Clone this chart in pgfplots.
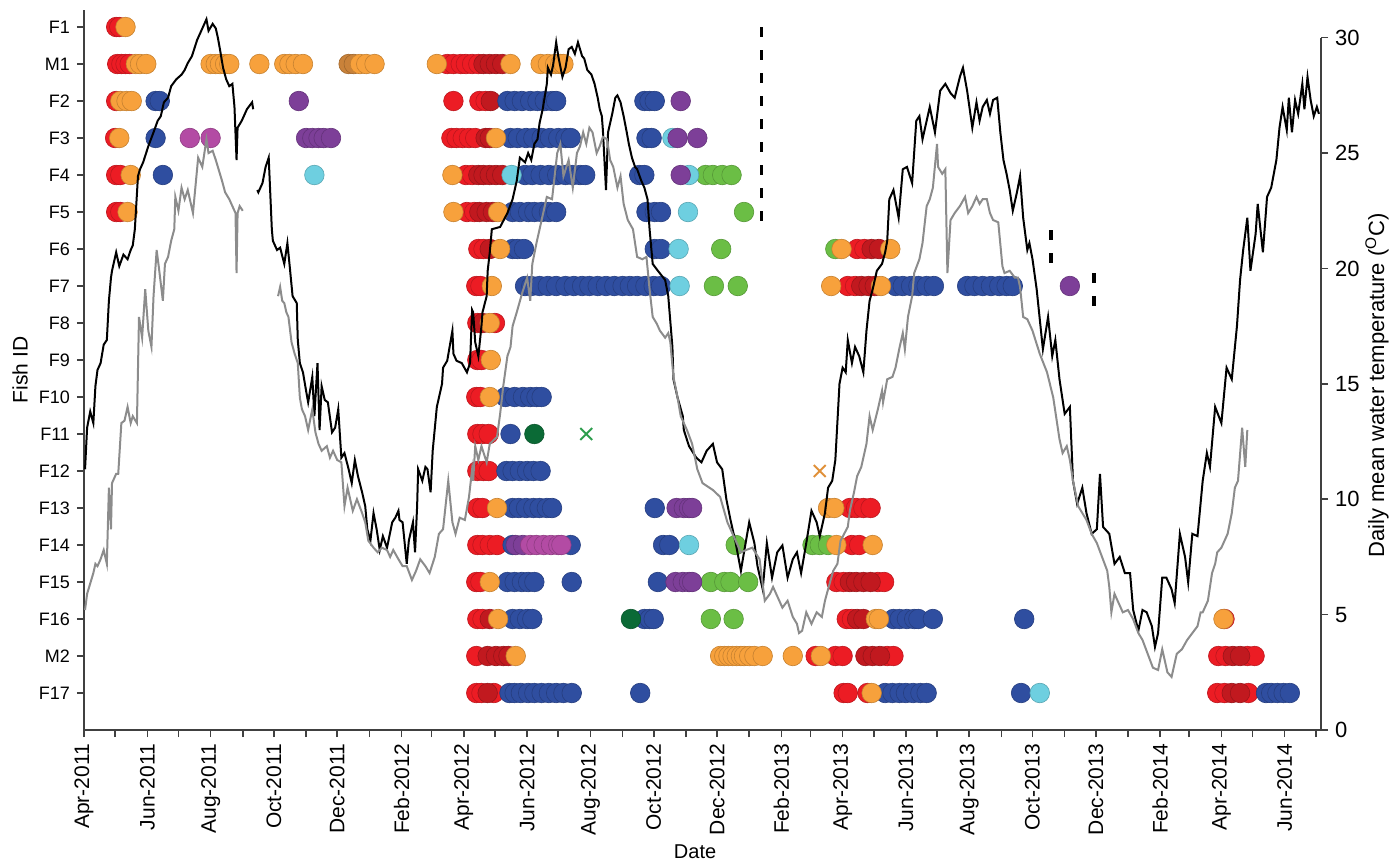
\documentclass[border=0pt]{standalone}
\usepackage{fontspec}
\setmainfont{Liberation Sans}
\usepackage{pgfplots}
\pgfplotsset{compat=1.18}
\definecolor{cred}{HTML}{EC1C24}
\definecolor{cdred}{HTML}{C1191F}
\definecolor{corange}{HTML}{F7A13C}
\definecolor{cbrown}{HTML}{C9823A}
\definecolor{cblue}{HTML}{2F4EA0}
\definecolor{cpurple}{HTML}{7D3F98}
\definecolor{cmag}{HTML}{B34BA4}
\definecolor{ccyan}{HTML}{6ECFE0}
\definecolor{cgreen}{HTML}{6BBE45}
\definecolor{cdgreen}{HTML}{0B6A36}
\definecolor{cgrey}{HTML}{8C8C8C}
\definecolor{cxgreen}{HTML}{2E9E4E}
\definecolor{cxorange}{HTML}{E0913A}
\pgfplotsset{dot/.style={only marks, mark=*, mark size=4.9pt, mark options={fill=#1, draw=#1!80!black, line width=0.3pt}}}
\begin{document}
\begin{tikzpicture}
\begin{axis}[
  at={(0,0)}, anchor=south west,
  width=618.5pt, height=360pt, scale only axis,
  xmin=0, xmax=1192, ymin=0, ymax=19.46,
  axis x line*=bottom, axis y line*=left,
  axis line style={black!75, line width=0.8pt},
  tick style={black!75, line width=0.8pt},
  tick align=outside, major tick length=3.5pt, minor tick length=3.5pt,
  xtick={0,61,122,183,244,306,366,427,488,549,610,672,731,792,853,914,975,1037,1096,1157},
  minor xtick={30,91,153,214,275,335,396,457,519,580,641,700,761,822,884,945,1006,1065,1126,1187},
  xticklabels={Apr-2011,Jun-2011,Aug-2011,Oct-2011,Dec-2011,Feb-2012,Apr-2012,Jun-2012,Aug-2012,Oct-2012,Dec-2012,Feb-2013,Apr-2013,Jun-2013,Aug-2013,Oct-2013,Dec-2013,Feb-2014,Apr-2014,Jun-2014},
  xticklabel style={rotate=90, anchor=east, font=\fontsize{10.5}{12}\selectfont},
  ytick={1,...,19},
  yticklabels={F17,M2,F16,F15,F14,F13,F12,F11,F10,F9,F8,F7,F6,F5,F4,F3,F2,M1,F1},
  yticklabel style={font=\fontsize{9}{10}\selectfont},
  xlabel={Date}, ylabel={Fish ID},
  xlabel style={at={(axis description cs:0.494,-0.1694)}, anchor=center, font=\fontsize{10}{12}\selectfont},
  ylabel style={at={(axis description cs:-0.0517,0.5)}, anchor=center, font=\fontsize{10.5}{12}\selectfont},
  clip=false,
]
% green
\addplot[dot=cgreen] coordinates {(599,15)(606,15)(615,15)(624,15)(636,14)(614,13)(724,13)(607,12)(630,12)(628,5)(702,5)(709,5)(717,5)(604,4)(617,4)(623,4)(640,4)(604,3)(626,3)};
% red
\addplot[dot=cred] coordinates {
(31,19)(34,19)
(32,18)(36,18)(40,18)(44,18)(350,18)(356,18)(363,18)(368,18)(374,18)(380,18)
(31,17)(356,17)(381,17)(387,17)
(30,16)(354,16)(359,16)(365,16)(371,16)(377,16)
(31,15)(35,15)(368,15)(374,15)
(31,14)(35,14)(369,14)(376,14)
(380,13)(385,13)(745,13)(752,13)
(378,12)(382,12)(736,12)(743,12)
(379,11)(396,11)
(379,10)(383,10)
(378,9)(382,9)
(379,8)(384,8)(390,8)
(379,7)(385,7)(390,7)
(379,6)(384,6)(738,6)(744,6)(751,6)(758,6)
(379,5)(384,5)(391,5)(398,5)(740,5)(747,5)
(378,4)(382,4)(725,4)(732,4)(765,4)(771,4)
(379,3)(384,3)(735,3)(740,3)(1099,3)
(378,2)(705,2)(724,2)(731,2)(774,2)(780,2)(1093,2)(1100,2)(1121,2)(1128,2)
(378,1)(383,1)(395,1)(732,1)(736,1)(755,1)(1092,1)(1099,1)(1122,1)};
% dark red
\addplot[dot=cdred] coordinates {
(385,18)(391,18)(397,18)(403,18)
(392,17)
(387,16)(391,16)
(380,15)(385,15)(391,15)(397,15)(403,15)
(381,14)(388,14)(394,14)
(391,13)(759,13)(766,13)
(749,12)(756,12)(762,12)
(384,11)
(738,4)(744,4)(751,4)(758,4)
(391,3)(745,3)(751,3)
(389,2)(397,2)(404,2)(409,2)(753,2)(760,2)(767,2)(1107,2)(1114,2)
(389,1)(1106,1)(1114,1)};
% blue
\addplot[dot=cblue] coordinates {
(69,17)(73,17)(408,17)(415,17)(422,17)(430,17)(437,17)(444,17)(451,17)(455,17)(540,17)(545,17)(550,17)
(69,16)(411,16)(418,16)(426,16)(433,16)(441,16)(449,16)(457,16)(464,16)(469,16)(542,16)(547,16)
(76,15)(425,15)(432,15)(440,15)(448,15)(456,15)(464,15)(471,15)(478,15)(483,15)(535,15)(540,15)
(413,14)(420,14)(428,14)(434,14)(441,14)(448,14)(455,14)(542,14)(550,14)(556,14)
(413,13)(418,13)(424,13)(550,13)(556,13)
(425,12)(431,12)(439,12)(447,12)(455,12)(464,12)(472,12)(480,12)(487,12)(495,12)(503,12)(511,12)(519,12)(526,12)(533,12)(541,12)(549,12)(556,12)(782,12)(789,12)(797,12)(804,12)(812,12)(819,12)(851,12)(858,12)(866,12)(874,12)(882,12)(889,12)(895,12)
(406,9)(415,9)(423,9)(430,9)(436,9)(441,9)
(411,8)
(407,7)(413,7)(420,7)(427,7)(433,7)(440,7)
(413,6)(419,6)(426,6)(433,6)(439,6)(446,6)(451,6)(550,6)
(413,5)(469,5)(558,5)(564,5)
(408,4)(415,4)(422,4)(428,4)(434,4)(470,4)(553,4)
(413,3)(420,3)(427,3)(432,3)(540,3)(545,3)(549,3)(780,3)(786,3)(793,3)(800,3)(804,3)(818,3)(906,3)
(410,1)(415,1)(421,1)(428,1)(434,1)(441,1)(448,1)(455,1)(462,1)(470,1)(536,1)(772,1)(779,1)(786,1)(792,1)(799,1)(806,1)(812,1)(903,1)(1139,1)(1144,1)(1150,1)(1156,1)(1162,1)};
% cyan
\addplot[dot=ccyan] coordinates {(567,16)(222,15)(412,15)(583,15)(582,14)(573,13)(574,12)(583,5)(921,1)};
% purple
\addplot[dot=cpurple] coordinates {(207,17)(575,17)(214,16)(220,16)(226,16)(231,16)(238,16)(572,16)(591,16)(575,15)(950,12)(571,6)(578,6)(583,6)(586,6)(570,4)(577,4)(583,4)(586,4)(416,5)(423,5)};
% magenta
\addplot[dot=cmag] coordinates {(102,16)(122,16)(430,5)(436,5)(443,5)(450,5)(457,5)(460,5)};
% dark green
\addplot[dot=cdgreen] coordinates {(434,8)(527,3)};
% brown
\addplot[dot=cbrown] coordinates {(255,18)(260,18)};
% orange
\addplot[dot=corange] coordinates {
(40,19)
(50,18)(54,18)(60,18)(122,18)(127,18)(131,18)(136,18)(140,18)(169,18)(193,18)(198,18)(204,18)(211,18)(266,18)(272,18)(280,18)(340,18)(411,18)(440,18)(447,18)(454,18)(459,18)(462,18)
(35,17)(41,17)(46,17)
(34,16)(397,16)
(45,15)(355,15)
(42,14)(356,14)(399,14)
(401,13)(730,13)(777,13)
(393,12)(720,12)(768,12)
(391,11)
(392,10)
(391,9)
(398,6)(717,6)(723,6)
(725,5)(760,5)
(391,4)
(399,3)(763,3)(766,3)(1098,3)
(416,2)(613,2)(617,2)(621,2)(625,2)(629,2)(633,2)(636,2)(641,2)(646,2)(654,2)(683,2)(710,2)
(759,1)};
% cross marks
\addplot[only marks, mark=x, mark size=4.2pt, mark options={draw=cxgreen, line width=1pt}] coordinates {(484,8)};
\addplot[only marks, mark=x, mark size=4.2pt, mark options={draw=cxorange, line width=1pt}] coordinates {(709,7)};
% dashed lines
\addplot[black, line width=1.8pt, dash pattern=on 5pt off 6.5pt] coordinates {(653,19.0) (653,13.73)};
\addplot[black, line width=1.8pt, dash pattern=on 5pt off 6.5pt] coordinates {(932,13.51) (932,12.57)};
\addplot[black, line width=1.8pt, dash pattern=on 5pt off 6.5pt] coordinates {(973,12.35) (973,11.43)};
\end{axis}
\begin{axis}[
  at={(0,0)}, anchor=south west,
  width=618.5pt, height=346.15pt, scale only axis,
  xmin=0, xmax=1192, ymin=0, ymax=30,
  axis x line=none, axis y line*=right,
  axis line style={black!75, line width=0.8pt},
  tick style={black!75, line width=0.8pt},
  tick align=outside, major tick length=3.5pt,
  ytick={0,5,10,15,20,25,30},
  /pgf/number format/assume math mode=true,
  yticklabel style={font=\fontsize{11}{13}\selectfont},
  ylabel={Daily mean water temperature (\textsuperscript{O}C)},
  every axis y label/.style={at={(axis description cs:1.0453,0.498)}, rotate=90, anchor=center, font=\fontsize{11}{13}\selectfont},
  clip=false,
]
\addplot[black, line width=1pt] coordinates {
(1,11.3)(3,13.1)(6,13.8)(9,13.3)(11,14.9)(13,15.6)(16,15.9)(19,16.7)(22,16.9)(24,18.6)(26,19.6)(27,19.9)(31,20.7)(34,20.1)(38,20.6)(42,20.4)(45,20.8)(47,21.0)(49,21.7)(52,24.0)(54,24.3)(57,24.6)(62,25.3)(67,25.9)(71,26.4)(74,26.6)(77,27.2)(81,27.4)(84,27.9)(89,28.2)(94,28.4)(97,28.6)(100,28.9)(104,29.2)(109,29.9)(112,30.2)(115,30.5)(118,30.8)(120,30.3)(124,30.6)(127,30.4)(129,30.0)(131,29.5)(134,28.7)(137,28.2)(140,27.9)(143,28.0)(145,27.0)(147,24.7)(148,26.1)(152,26.4)(157,26.9)(162,27.2)(163,26.9)};
\addplot[black, line width=1pt] coordinates {
(167,23.4)(168,23.3)(172,23.7)(175,24.4)(178,24.8)(181,21.7)(182,21.2)(186,20.8)(189,20.9)(193,20.2)(196,21.1)(198,20.2)(201,18.8)(205,18.5)(206,16.9)(208,15.9)(211,15.5)(214,14.7)(216,14.2)(220,15.3)(222,13.6)(225,15.9)(227,13.0)(229,14.9)(232,14.3)(235,14.2)(239,12.9)(242,13.1)(245,13.9)(248,11.8)(251,12.0)(255,11.3)(258,10.7)(261,11.7)(264,11.0)(268,10.3)(271,9.7)(273,8.7)(276,8.2)(279,9.4)(282,8.7)(285,7.8)(288,8.4)(292,7.9)(297,9.0)(300,9.2)(303,9.5)(304,9.1)(307,9.0)(311,7.2)(313,8.2)(317,9.0)(319,7.7)(321,9.7)(322,11.3)(326,10.8)(329,11.4)(331,11.3)(334,10.3)(336,12.1)(340,14.0)(342,14.4)(345,15.0)(346,15.7)(350,16.0)(355,17.3)(356,16.3)(359,16.0)(364,15.9)(369,15.5)(372,15.9)(374,18.2)(375,18.1)(377,16.8)(380,16.2)(383,17.5)(384,18.1)(388,18.8)(389,19.9)(391,20.7)(393,21.7)(401,21.8)(408,22.4)(413,23.0)(417,23.8)(420,24.8)(425,24.6)(428,25.0)(431,24.7)(434,25.4)(437,25.6)(439,26.3)(442,26.9)(446,28.0)(447,28.7)(450,28.4)(452,28.8)(455,29.8)(457,29.2)(461,28.3)(464,28.7)(467,29.5)(470,29.6)(473,29.3)(476,29.8)(480,29.2)(482,29.1)(485,28.6)(489,28.4)(492,28.0)(495,27.4)(497,26.9)(499,26.6)(500,26.0)(503,23.4)(505,25.9)(509,26.7)(512,27.4)(514,27.5)(517,27.2)(520,26.6)(523,25.9)(525,25.4)(528,24.8)(531,24.4)(533,24.3)(537,23.8)(540,23.5)(543,23.0)(545,21.7)(548,20.2)(553,19.9)(560,19.5)(563,18.8)(567,16.6)(568,15.2)(572,14.4)(577,13.6)(578,13.0)(583,12.3)(590,11.8)(595,11.6)(600,12.1)(606,12.4)(610,11.6)(615,11.3)(619,10.0)(623,9.1)(628,8.1)(633,6.9)(636,7.7)(641,9.0)(646,8.1)(649,7.1)(654,6.1)(658,8.1)(663,6.6)(668,7.7)(673,8.0)(678,6.6)(683,7.4)(687,7.7)(691,6.8)(696,8.1)(701,9.5)(706,9.0)(709,8.4)(714,9.4)(717,10.5)(721,10.8)(724,11.7)(728,15.0)(731,15.7)(734,15.5)(736,16.9)(740,15.9)(743,16.6)(747,16.2)(751,15.5)(754,17.3)(757,18.6)(760,19.1)(764,19.9)(769,20.2)(772,20.7)(774,21.2)(776,23.0)(780,23.4)(785,22.2)(789,24.3)(793,24.4)(798,23.7)(802,26.4)(805,26.6)(808,25.6)(815,27.0)(820,25.9)(825,27.7)(830,28.0)(835,27.6)(839,27.4)(844,28.3)(847,28.7)(851,27.7)(856,26.1)(860,27.2)(863,26.4)(866,27.0)(870,27.3)(873,26.7)(876,27.3)(880,27.4)(883,25.9)(886,24.7)(889,24.1)(892,23.4)(895,22.5)(899,23.3)(902,24.0)(905,22.2)(909,20.8)(911,21.1)(914,20.4)(918,19.1)(921,17.8)(924,16.5)(929,17.9)(933,16.2)(936,16.9)(940,15.2)(945,13.7)(950,14.0)(953,10.8)(957,9.8)(962,10.5)(966,9.4)(971,8.5)(976,8.7)(979,11.1)(982,8.8)(988,8.5)(993,7.2)(998,7.5)(1003,6.8)(1008,6.8)(1011,5.2)(1016,4.3)(1020,5.2)(1024,5.1)(1029,4.5)(1032,3.6)(1035,4.2)(1039,6.6)(1043,6.6)(1048,6.1)(1051,5.5)(1056,8.5)(1061,7.5)(1064,6.4)(1068,8.5)(1073,8.4)(1078,10.8)(1082,12.0)(1085,11.4)(1090,14.0)(1096,13.3)(1101,15.7)(1106,15.2)(1111,17.5)(1114,19.5)(1117,20.8)(1121,22.2)(1124,19.9)(1129,21.5)(1131,22.8)(1136,20.7)(1140,23.1)(1144,23.5)(1149,24.7)(1152,26.1)(1155,27.0)(1159,26.0)(1161,27.4)(1164,25.9)(1167,27.3)(1170,26.7)(1174,28.0)(1176,26.9)(1179,28.3)(1182,27.3)(1185,26.6)(1188,27.0)(1190,26.7)};
\addplot[cgrey, line width=1pt] coordinates {
(1,5.2)(3,5.9)(7,6.5)(9,6.8)(11,7.2)(13,7.1)(16,7.4)(19,7.8)(22,7.2)(24,10.5)(26,8.7)(27,10.7)(31,11.1)(33,11.1)(36,13.3)(39,13.4)(42,14.0)(45,13.3)(47,13.6)(51,13.3)(53,17.9)(56,17.0)(59,19.1)(62,17.3)(65,16.6)(67,18.8)(70,20.8)(72,20.1)(76,18.6)(78,20.2)(81,20.5)(84,21.2)(87,21.7)(88,23.1)(91,22.5)(94,23.5)(97,23.0)(100,23.4)(105,22.4)(110,24.8)(114,24.4)(118,25.6)(120,25.0)(124,25.1)(127,24.7)(129,24.4)(133,23.8)(136,23.3)(140,23.0)(143,22.7)(146,22.4)(147,19.8)(148,22.4)(150,22.7)(153,22.5)};
\addplot[cgrey, line width=1pt] coordinates {
(187,18.8)(189,19.2)(191,18.6)(193,18.5)(195,18.1)(197,17.9)(200,16.8)(203,16.3)(206,15.9)(208,14.4)(210,13.9)(213,13.6)(216,13.0)(220,13.9)(223,12.9)(226,12.4)(229,12.1)(234,12.3)(237,11.8)(240,12.1)(244,11.7)(248,11.6)(251,9.7)(254,10.5)(259,9.5)(263,10.0)(268,9.4)(271,9.0)(274,8.2)(279,7.9)(283,7.7)(287,7.9)(292,7.8)(295,7.5)(298,7.8)(303,7.4)(307,7.1)(311,7.1)(316,6.5)(320,6.9)(324,7.4)(329,7.1)(333,6.8)(338,7.5)(342,8.5)(346,8.7)(351,10.8)(355,9.0)(358,8.5)(362,9.2)(367,9.1)(371,10.1)(374,11.3)(375,10.8)(377,12.3)(380,11.7)(383,12.3)(388,11.6)(391,12.4)(398,12.7)(401,13.7)(404,14.9)(408,16.2)(411,16.6)(413,17.5)(417,18.1)(422,18.9)(427,19.6)(430,18.6)(432,20.2)(436,21.1)(439,21.7)(446,23.1)(451,23.0)(456,25.0)(459,25.4)(462,24.0)(467,24.7)(471,23.5)(475,25.0)(478,25.3)(481,25.9)(484,25.4)(487,26.1)(490,25.9)(494,25.0)(497,25.3)(500,25.7)(504,25.6)(507,24.7)(510,24.4)(514,23.5)(517,24.0)(520,22.8)(524,22.1)(529,21.7)(531,21.1)(533,20.5)(538,20.4)(542,20.5)(545,19.1)(548,17.9)(552,17.6)(555,17.3)(560,17.0)(563,17.2)(565,16.8)(568,15.3)(572,14.4)(575,13.6)(581,13.0)(586,12.4)(591,11.3)(596,10.7)(606,10.4)(613,10.1)(620,9.0)(626,8.4)(633,7.7)(638,7.8)(644,7.9)(651,7.4)(656,5.6)(661,5.9)(664,6.2)(668,5.8)(673,5.3)(678,5.6)(683,4.9)(687,4.6)(689,4.2)(692,4.3)(696,5.1)(701,4.6)(706,5.1)(711,4.9)(714,5.6)(717,6.1)(722,6.9)(726,7.2)(729,8.2)(736,8.8)(738,9.5)(742,10.3)(745,11.0)(749,11.4)(754,12.4)(757,13.6)(760,13.0)(765,13.9)(769,14.7)(770,14.2)(774,15.2)(779,15.3)(782,15.7)(786,16.6)(789,17.2)(791,16.5)(794,17.9)(798,18.8)(800,19.8)(805,20.4)(808,21.1)(812,22.7)(815,23.0)(818,23.5)(822,25.4)(823,24.4)(827,24.1)(830,24.3)(832,19.8)(835,22.1)(839,22.4)(844,22.7)(849,23.1)(852,22.4)(856,22.7)(860,23.1)(863,22.8)(866,23.0)(870,23.0)(873,22.4)(876,22.1)(881,22.0)(885,20.1)(887,19.8)(892,19.9)(897,19.6)(900,19.6)(902,19.2)(905,17.9)(909,17.8)(914,17.3)(921,16.3)(928,15.5)(934,14.4)(940,12.6)(943,12.0)(947,12.3)(950,11.7)(953,10.8)(958,9.7)(962,9.4)(966,9.1)(971,8.5)(976,8.1)(981,7.5)(986,6.9)(988,6.2)(990,5.1)(993,5.9)(996,5.6)(1001,5.1)(1006,5.2)(1011,4.8)(1016,4.2)(1020,3.9)(1025,3.3)(1030,2.7)(1035,2.6)(1039,3.5)(1044,2.5)(1048,2.3)(1053,3.3)(1058,3.5)(1063,3.9)(1068,4.2)(1073,4.5)(1076,5.1)(1078,5.1)(1083,5.6)(1087,6.8)(1090,7.2)(1092,7.7)(1096,7.9)(1099,8.2)(1102,8.5)(1106,9.4)(1109,10.5)(1112,10.8)(1116,13.1)(1119,11.4)(1121,13.0)};
\end{axis}
\pgfresetboundingbox
\path[use as bounding box] (-42pt,-66.5pt) rectangle (654.5pt,365pt);
\end{tikzpicture}
\end{document}
